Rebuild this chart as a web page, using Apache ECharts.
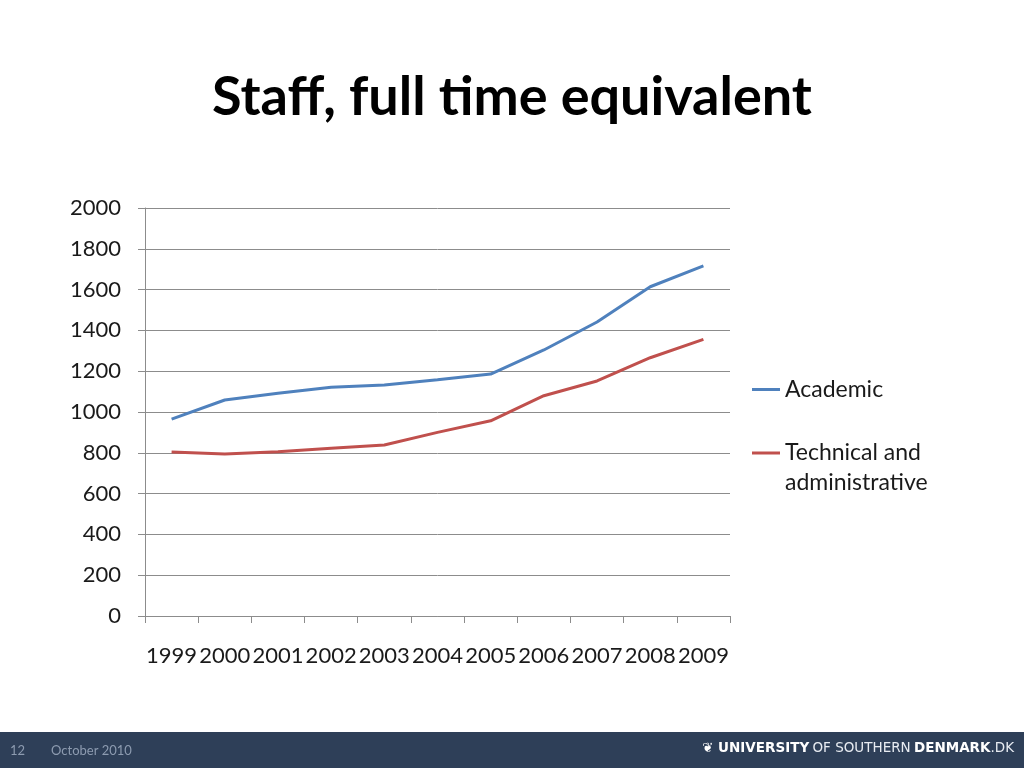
<!DOCTYPE html>
<html>
<head>
<meta charset="utf-8">
<script src="https://cdn.jsdelivr.net/npm/echarts@6/dist/echarts.min.js"></script>
<style>html,body{margin:0;padding:0;background:#fff}#c{width:1024px;height:768px}</style>
</head>
<body>
<div id="c"></div>
<script>
var years = ['1999','2000','2001','2002','2003','2004','2005','2006','2007','2008','2009'];
var academic = [965, 1059, 1092, 1121, 1132, 1158, 1186, 1304, 1441, 1614, 1716];
var technical = [804, 794, 805, 822, 838, 900, 957, 1080, 1152, 1266, 1356];
var yTicks = [0, 200, 400, 600, 800, 1000, 1200, 1400, 1600, 1800, 2000];
var seriesNames = ['Academic', 'Technical and administrative'];

var chart = echarts.init(document.getElementById('c'), null, {renderer: 'canvas'});
var FONT = 'Lato';
var gridColor = '#8c8c8c';
chart.setOption({
  animation: false,
  backgroundColor: '#ffffff',
  title: {
    text: 'Staff, full time equivalent',
    left: 'center',
    top: 66,
    textStyle: {fontFamily: FONT, fontWeight: 'bold', fontSize: 54, color: '#000'}
  },
  grid: {left: 145, right: 294, top: 208, bottom: 152, containLabel: false},
  legend: [{
    data: [seriesNames[0]],
    orient: 'vertical',
    left: 747,
    top: 373,
    itemWidth: 28,
    itemHeight: 3,
    icon: 'rect',
    textStyle: {fontFamily: FONT, fontSize: 23, color: '#1a1a1a'}
  }, {
    data: [seriesNames[1]],
    orient: 'vertical',
    left: 747,
    top: 403,
    itemWidth: 28,
    itemHeight: 3,
    icon: 'rect',
    formatter: function (n) { return ' \nTechnical and\nadministrative'; },
    textStyle: {fontFamily: FONT, fontSize: 23, color: '#1a1a1a', lineHeight: 30}
  }],
  xAxis: {
    type: 'category',
    data: years,
    boundaryGap: true,
    axisLine: {lineStyle: {color: gridColor, width: 1}},
    axisTick: {show: true, alignWithLabel: false, length: 7, lineStyle: {color: gridColor}},
    axisLabel: {fontFamily: FONT, fontSize: 22, color: '#1a1a1a', margin: 29, interval: 0}
  },
  yAxis: {
    type: 'value',
    min: yTicks[0],
    max: yTicks[yTicks.length - 1],
    interval: yTicks[1] - yTicks[0],
    axisLine: {show: true, lineStyle: {color: gridColor, width: 1}},
    axisTick: {show: true, length: 7, lineStyle: {color: gridColor}},
    splitLine: {show: true, lineStyle: {color: gridColor, width: 1}},
    axisLabel: {fontFamily: FONT, fontSize: 22, color: '#1a1a1a', margin: 24,
      formatter: function (v) { return String(v); }}
  },
  series: [{
    name: seriesNames[0],
    type: 'line',
    data: academic,
    symbol: 'none',
    lineStyle: {color: '#4F81BD', width: 3},
    itemStyle: {color: '#4F81BD'}
  }, {
    name: seriesNames[1],
    type: 'line',
    data: technical,
    symbol: 'none',
    lineStyle: {color: '#C0504D', width: 3},
    itemStyle: {color: '#C0504D'}
  }],
  graphic: [{
    type: 'rect',
    shape: {x: 0, y: 732, width: 1024, height: 36},
    style: {fill: '#2e3f58'},
    silent: true
  }, {
    type: 'text',
    x: 10, y: 751,
    style: {text: '12', fill: '#8d9bb0', font: '13px Lato', textVerticalAlign: 'middle'}
  }, {
    type: 'text',
    x: 51, y: 751,
    style: {text: 'October 2010', fill: '#8d9bb0', font: '13px Lato', textVerticalAlign: 'middle'}
  }, {
    type: 'text',
    right: 10, top: 741,
    style: {
      text: '{b|\u2766 UNIVERSITY} {n|OF SOUTHERN} {b|DENMARK}{n|.DK}',
      rich: {
        b: {fontFamily: 'DejaVu Sans', fontWeight: 'bold', fontSize: 13.5, fill: '#ffffff', color: '#ffffff'},
        n: {fontFamily: 'DejaVu Sans', fontSize: 13.5, fill: '#e8ecf2', color: '#e8ecf2'}
      }
    }
  }]
});
</script>
</body>
</html>
